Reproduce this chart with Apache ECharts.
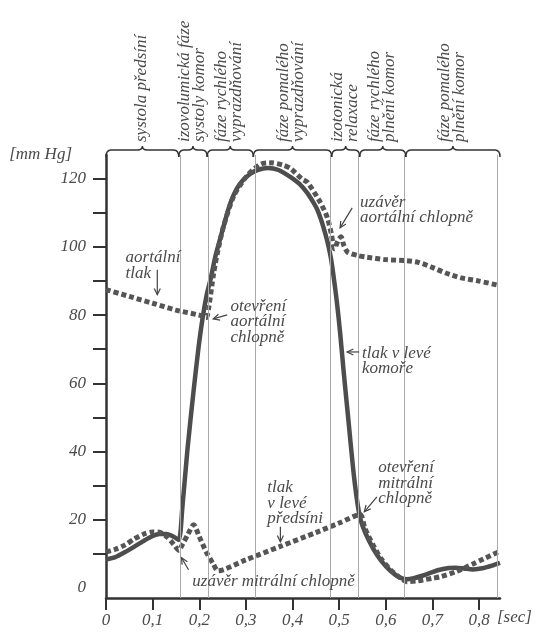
<!DOCTYPE html>
<html>
<head>
<meta charset="utf-8">
<script src="https://cdn.jsdelivr.net/npm/echarts@6/dist/echarts.min.js"></script>
<style>
html,body{margin:0;padding:0;background:#fff;}
#chart{width:543px;height:633px;}
</style>
</head>
<body>
<div id="chart"></div>
<script>
// ---- data ----
const ventricleX = [0,0.02,0.04,0.06,0.08,0.1,0.115,0.13,0.145,0.156,0.164,0.175,0.188,0.198,0.207,0.216,0.225,0.235,0.246,0.257,0.267,0.28,0.295,0.31,0.325,0.347,0.37,0.396,0.415,0.432,0.445,0.453,0.46,0.467,0.475,0.482,0.488,0.495,0.502,0.51,0.52,0.53,0.538,0.545,0.555,0.573,0.59,0.61,0.63,0.645,0.66,0.68,0.7,0.716,0.735,0.75,0.77,0.787,0.81,0.83,0.845];
const ventricleY = [8.3,9,10.4,12,13.7,15.2,15.8,15.8,15,14,24,41,58,70,79,86,91,97.5,103,108.5,113,117,119.8,121.5,122.6,123.2,122.6,120.5,118.5,115.8,113,111,108.5,105.5,101.5,97,91.5,84,75,63,49,35,26,20.5,16.5,11.5,8,5,3,2.5,2.8,3.6,4.6,5.3,5.8,5.9,5.6,5.4,5.8,6.6,7.3];

const aortaX = [0,0.05,0.1,0.15,0.2,0.215,0.22,0.231,0.24,0.252,0.274,0.303,0.332,0.355,0.38,0.396,0.42,0.432,0.46,0.475,0.483,0.49,0.498,0.504,0.51,0.518,0.54,0.56,0.6,0.645,0.67,0.7,0.73,0.76,0.8,0.84];
const aortaY = [87.5,85.5,83.5,81.5,80,79.3,82,92.4,99,106,115,121,124.3,124.7,124,123,120,119,113,108.5,104,99.5,102,103,100.5,98.5,97.5,97,96.3,96,95.5,94,92.3,91,90,88.8];

const atriumX = [0,0.02,0.04,0.06,0.08,0.1,0.115,0.13,0.145,0.156,0.165,0.175,0.188,0.2,0.215,0.23,0.24,0.3,0.375,0.45,0.5,0.545,0.555,0.573,0.59,0.61,0.63,0.645,0.665,0.68,0.7,0.716,0.75,0.787,0.81,0.838,0.845];
const atriumY = [10.5,11.3,12.5,14.3,15.7,16.4,16.3,15,12.8,11,13,15.5,18.5,15,10.5,7,5,8.2,12.2,16.2,19,21.5,17.5,12.5,8.5,5.3,3,1.8,2,2.3,2.8,3.2,4.7,7,8.5,10.3,10.8];

const phaseBounds = [0,0.156,0.217,0.316,0.484,0.544,0.643,0.845];
const phaseLabels = ['systola předsíní','izovolumická fáze\nsystoly komor','fáze rychlého\nvyprazdňování','fáze pomalého\nvyprazdňování','izotonická\nrelaxace','fáze rychlého\nplnění komor','fáze pomalého\nplnění komor'];

const xTickValues = [0,0.1,0.2,0.3,0.4,0.5,0.6,0.7,0.8];
const yTickValues = [10,20,30,40,50,60,70,80,90,100,110,120];
const yLabelValues = [0,20,40,60,80,100,120];

// annotation texts (anchor: left edge, first-line centre, in data units)
const noteTexts = ['aortální\ntlak','otevření\naortální\nchlopně','uzávěr\naortální chlopně','tlak v levé\nkomoře','tlak\nv levé\npředsíni','otevření\nmitrální\nchlopně','uzávěr mitrální chlopně'];
const noteX = [0.042,0.267,0.545,0.549,0.346,0.584,0.185];
const noteY = [96.8,82.5,113,68.7,29.3,35.2,1.8];
// arrows: from (x1,y1) to tip (x2,y2)
const arrowFromX = [0.11,0.26,0.528,0.543,0.374,0.581,0.177];
const arrowFromY = [93.3,80.1,111.5,69.2,17.9,26.7,5.3];
const arrowToX = [0.11,0.23,0.502,0.517,0.374,0.554,0.162];
const arrowToY = [86,78.9,105.6,69.2,13.5,22.3,8.8];

const Y_MIN = -3, Y_MAX = 127, X_MAX = 0.845;
const FONT = '"Liberation Serif","DejaVu Serif",serif';
const TXT = '#4a4a4a';
const FS = 17;

function zip(xs, ys){ return xs.map((x,i)=>[x, ys[i]]); }

const chart = echarts.init(document.getElementById('chart'), null, {renderer:'canvas'});

const phaseData = phaseLabels.map((l,i)=>[phaseBounds[i], phaseBounds[i+1], i]);
const noteData = noteTexts.map((t,i)=>[noteX[i], noteY[i], i]);
const arrowData = arrowFromX.map((x,i)=>[x, arrowFromY[i], arrowToX[i], arrowToY[i]]);

const dashStyle = {color:'#555', width:5, type:[5,3], cap:'butt'};

const option = {
  animation:false,
  backgroundColor:'#fff',
  grid:{left:106, right:43, top:155, bottom:35},
  xAxis:{
    type:'value', min:0, max:X_MAX,
    axisLine:{onZero:false, lineStyle:{color:'#333', width:2.5}},
    axisTick:{customValues:xTickValues, length:12, lineStyle:{color:'#333', width:2}},
    axisLabel:{customValues:xTickValues, margin:14, color:TXT, fontFamily:FONT, fontStyle:'italic', fontSize:FS,
      formatter:v=>String(v).replace('.',',')},
    splitLine:{show:false},
    name:'[sec]', nameLocation:'end', nameGap:-3,
    nameTextStyle:{color:TXT, fontFamily:FONT, fontStyle:'italic', fontSize:FS, verticalAlign:'top', align:'left', padding:[11,0,0,0]}
  },
  yAxis:{
    type:'value', min:Y_MIN, max:Y_MAX,
    axisLine:{show:true, lineStyle:{color:'#333', width:2.5}},
    axisTick:{show:true, customValues:yTickValues, length:13, lineStyle:{color:'#333', width:2}},
    axisLabel:{customValues:yLabelValues, margin:20, color:TXT, fontFamily:FONT, fontStyle:'italic', fontSize:FS},
    splitLine:{show:false},
    name:'[mm Hg]', nameLocation:'end', nameGap:0,
    nameTextStyle:{color:TXT, fontFamily:FONT, fontStyle:'italic', fontSize:FS, align:'right', verticalAlign:'middle', padding:[0,34,0,0]}
  },
  series:[
    {
      name:'tlak v levé komoře', type:'line', data:zip(ventricleX, ventricleY),
      showSymbol:false, smooth:0.25, z:3,
      lineStyle:{color:'#4d4d4d', width:4.5},
      markLine:{
        silent:true, symbol:'none', label:{show:false},
        lineStyle:{color:'#aaa', width:1, type:'solid'},
        data:phaseBounds.slice(1).map(v=>({xAxis:v}))
      }
    },
    {
      name:'aortální tlak', type:'line', data:zip(aortaX, aortaY),
      showSymbol:false, smooth:0.25, z:4, lineStyle:dashStyle
    },
    {
      name:'tlak v levé předsíni', type:'line', data:zip(atriumX, atriumY),
      showSymbol:false, smooth:0.25, z:4, lineStyle:dashStyle
    },
    {
      // phase braces and rotated labels
      type:'custom', coordinateSystem:'cartesian2d', data:phaseData, z:5, clip:false,
      encode:{x:[0,1]},
      renderItem:function(params, api){
        const a = api.coord([api.value(0), Y_MAX]);
        const b = api.coord([api.value(1), Y_MAX]);
        const xa = a[0], xb = b[0], tip = (xa+xb)/2, y = a[1]-5;
        const path = 'M'+xa+','+(y+7)+' Q'+xa+','+y+' '+(xa+5)+','+y+
          ' L'+(tip-5)+','+y+' Q'+tip+','+y+' '+tip+','+(y-4)+
          ' Q'+tip+','+y+' '+(tip+5)+','+y+' L'+(xb-5)+','+y+
          ' Q'+xb+','+y+' '+xb+','+(y+7);
        return {type:'group', children:[
          {type:'path', shape:{pathData:path}, style:{stroke:'#333', lineWidth:1.5, fill:null}},
          {type:'text', x:tip-1, y:y-8, rotation:Math.PI/2,
           style:{text:phaseLabels[api.value(2)], x:0, y:0, align:'left', verticalAlign:'middle',
             fill:TXT, fontFamily:FONT, fontStyle:'italic', fontSize:FS, lineHeight:15}}
        ]};
      }
    },
    {
      // annotation texts
      type:'custom', coordinateSystem:'cartesian2d', data:noteData, z:6, clip:false,
      encode:{x:0, y:1},
      renderItem:function(params, api){
        const p = api.coord([api.value(0), api.value(1)]);
        return {type:'text', x:p[0], y:p[1]-8,
          style:{text:noteTexts[api.value(2)], x:0, y:0, align:'left', verticalAlign:'top',
            fill:TXT, fontFamily:FONT, fontStyle:'italic', fontSize:FS, lineHeight:15.5}};
      }
    },
    {
      // arrows
      type:'custom', coordinateSystem:'cartesian2d', data:arrowData, z:6, clip:false,
      encode:{x:[0,2], y:[1,3]},
      renderItem:function(params, api){
        const p1 = api.coord([api.value(0), api.value(1)]);
        const p2 = api.coord([api.value(2), api.value(3)]);
        const ang = Math.atan2(p2[1]-p1[1], p2[0]-p1[0]);
        const h = 7, w = 0.45;
        const l = [p2[0]-h*Math.cos(ang-w), p2[1]-h*Math.sin(ang-w)];
        const r = [p2[0]-h*Math.cos(ang+w), p2[1]-h*Math.sin(ang+w)];
        return {type:'group', children:[
          {type:'line', shape:{x1:p1[0], y1:p1[1], x2:p2[0], y2:p2[1]}, style:{stroke:'#444', lineWidth:1.2}},
          {type:'polyline', shape:{points:[l, p2, r]}, style:{stroke:'#444', lineWidth:1.2, fill:null}}
        ]};
      }
    }
  ]
};
chart.setOption(option);
</script>
</body>
</html>
